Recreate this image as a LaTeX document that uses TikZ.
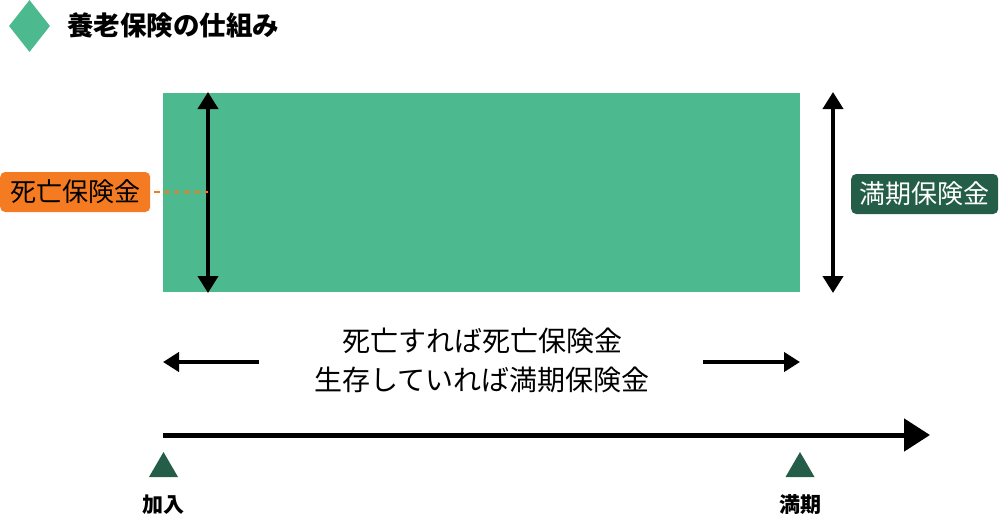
\documentclass[tikz,border=0pt]{standalone}
\usepackage{fontspec}
\setmainfont{Noto Sans CJK JP}
\usetikzlibrary{arrows.meta,shapes.geometric}
\definecolor{mgreen}{HTML}{4CB98E}
\definecolor{dgreen}{HTML}{245E48}
\definecolor{orng}{HTML}{F47B22}
\tikzset{
  dbl/.style={line width=4pt,{Triangle[width=20pt,length=17pt]}-{Triangle[width=20pt,length=17pt]}, shorten <=-1pt, shorten >=-1pt},
  harr/.style={line width=4.5pt,-{Triangle[width=19pt,length=16pt]}},
  tag/.style={rounded corners=5pt,inner sep=0pt,minimum height=40pt,font=\fontsize{26}{28}\selectfont},
  lbl/.style={font=\fontsize{21}{24}\selectfont\bfseries},
}
\begin{document}
\begin{tikzpicture}[x=1pt,y=-1pt]
\useasboundingbox (0,0) rectangle (1000,522);
% title
\node[diamond,fill=mgreen,minimum width=41pt,minimum height=52pt,inner sep=0pt] (dia) at (29.5,26) {};
\node[anchor=west,inner sep=0pt,font=\fontsize{26.5}{28}\selectfont\bfseries] (title) at (67,25) {養老保険の仕組み};
% main block
\node[fill=mgreen,minimum width=637pt,minimum height=199pt,inner sep=0pt,anchor=north west] (blk) at (163,93) {};
\coordinate (lt) at (208,93); \coordinate (lb) at (208,292);
\draw[dbl] (lt) -- (lb);
\coordinate (rt) at (833,93); \coordinate (rb) at (833,292);
\draw[dbl] (rt) -- (rb);
% labels
\node[tag,fill=orng,text=black,minimum width=150pt,anchor=west] (death) at (0,192) {死亡保険金};
\coordinate (dl) at (208,192);
\draw[orng,line width=2pt,dash pattern=on 6pt off 4pt] (death.east) ++(4,0) -- (dl);
\node[tag,fill=dgreen,text=white,minimum width=147pt,anchor=west] (mat) at (851,194) {満期保険金};
% middle text
\node[font=\fontsize{28}{39}\selectfont,align=center] (mid) at (482,360) {死亡すれば死亡保険金\\生存していれば満期保険金};
\coordinate (la0) at (259,362); \coordinate (la1) at (163,362);
\draw[harr] (la0) -- (la1);
\coordinate (ra0) at (703,362); \coordinate (ra1) at (800,362);
\draw[harr] (ra0) -- (ra1);
% timeline
\coordinate (t0) at (163,435); \coordinate (t1) at (930,435);
\draw[line width=5pt,-{Triangle[width=32pt,length=26pt]}] (t0) -- (t1);
\coordinate (a1) at (163.5,452); \coordinate (a2) at (800,452);
\fill[dgreen] (a1) -- ++(14.5,25) -- ++(-29,0) -- cycle;
\fill[dgreen] (a2) -- ++(14.5,25) -- ++(-29,0) -- cycle;
\node[lbl] (join) at (163,505) {加入};
\node[lbl] (end) at (800,505) {満期};
\end{tikzpicture}
\end{document}
